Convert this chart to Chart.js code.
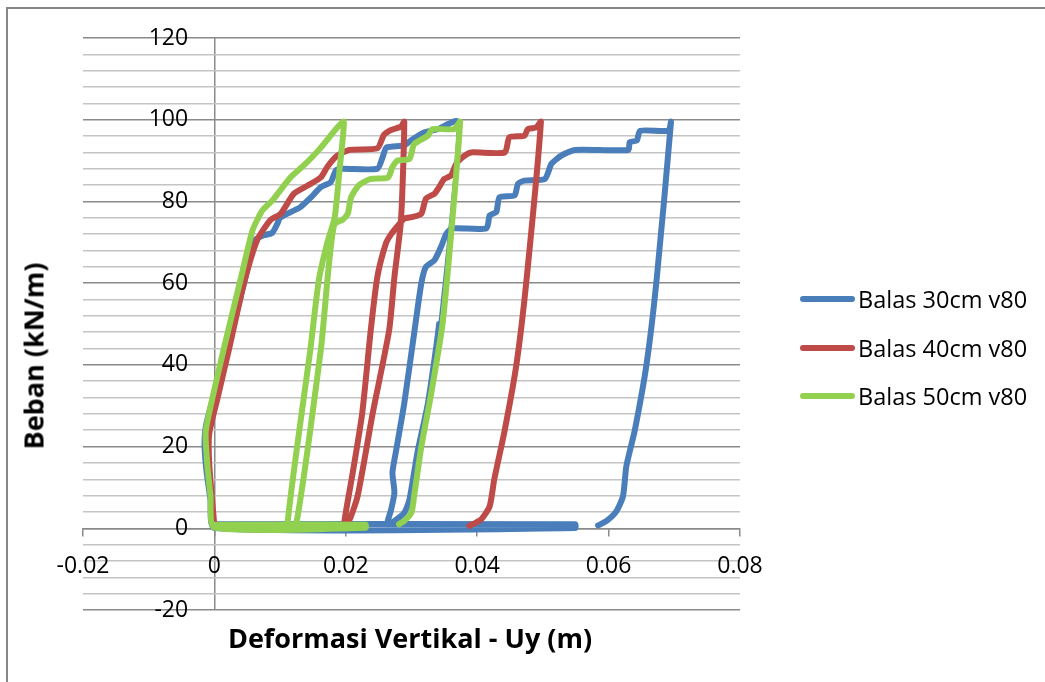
<!DOCTYPE html>
<html>
<head>
<meta charset="utf-8">
<script src="https://cdn.jsdelivr.net/npm/chart.js@4.4.1/dist/chart.umd.min.js"></script>
<style>
  html, body { margin: 0; padding: 0; background: #fff; overflow: hidden; }
  #wrap { position: relative; width: 1045px; height: 682px; overflow: hidden; }
  #frame { position: absolute; left: 6px; top: 7px; width: 1100px; height: 720px; border: 2px solid #878787; box-sizing: border-box; }
  canvas { position: absolute; left: 0; top: 0; }
  .title { position: absolute; font-family: "Open Sans", sans-serif; font-weight: bold; font-size: 27px; color: #000; white-space: nowrap; transform: translate(-50%, -50%); }
  #ytitle { left: 33px; top: 356px; transform: translate(-50%, -50%) rotate(-90deg); }
  #xtitle { left: 410px; top: 637px; }
  #legend { position: absolute; left: 800px; top: 275px; font-family: "Open Sans", sans-serif; font-size: 23.5px; color: #000; }
  .item { height: 48.5px; display: flex; align-items: center; }
  .swatch { width: 55px; height: 6px; border-radius: 3px; }
  .item span.txt { margin-left: 3px; }
</style>
</head>
<body>
<div id="wrap">
  <div id="frame"></div>
  <canvas id="chart" width="1045" height="682"></canvas>
  <div class="title" id="ytitle">Beban (kN/m)</div>
  <div class="title" id="xtitle">Deformasi Vertikal - Uy (m)</div>
  <div id="legend"></div>
</div>
<script>
// series names
const seriesNames = ['Balas 30cm v80', 'Balas 40cm v80', 'Balas 50cm v80'];

// Balas 30cm: displacement (m) and load (kN/m), in drawing order
const uy30 = [0, 0.0549, 0.0549, 0, -0.0006, -0.0012, -0.0015, -0.0013, 0.0, 0.002, 0.0045, 0.0062,
  0.0075, 0.0088, 0.0096, 0.0100, 0.0116, 0.0131, 0.0147, 0.0162, 0.0177, 0.0185, 0.0194, 0.0248,
  0.0256, 0.0262, 0.0289, 0.0299, 0.0320, 0.0340, 0.0370,
  0.0342, 0.0325, 0.0309, 0.0297, 0.0289, 0.0274, 0.0263,
  0.0269, 0.0274, 0.0271, 0.0276, 0.0289, 0.0306, 0.0315, 0.0322, 0.0335, 0.0345, 0.0353, 0.0362,
  0.0414, 0.0419, 0.0429, 0.0434, 0.0457, 0.0462, 0.0472, 0.0503, 0.0513, 0.0528, 0.0549, 0.0630,
  0.0632, 0.0643, 0.0648, 0.0691, 0.0695,
  0.0673, 0.0658, 0.0640, 0.0627, 0.0622, 0.0612, 0.0597, 0.0584];
const load30 = [1.0, 1.0, 0.05, 0.05, 7, 14, 20, 25, 33, 44, 60, 70.5,
  71.7, 72.3, 74.6, 76, 77.4, 78.6, 81, 83.5, 84.7, 87.6, 88, 88,
  90.8, 93.2, 93.7, 94.9, 96.9, 97.7, 99.5,
  50, 30.6, 18.5, 7.1, 3.8, 1.8, 1.0,
  4.6, 8.7, 13.6, 18.5, 30.6, 50, 60, 64, 65.6, 68.9, 72.1, 73.4,
  73.4, 76.6, 77.4, 81, 81.5, 84.3, 85.1, 85.5, 89.2, 91.2, 92.6, 92.6,
  94.5, 94.9, 97.3, 97.3, 99.5,
  60.7, 40.4, 24.1, 15.2, 7.9, 4.2, 1.8, 0.7];

// Balas 40cm
const uy40 = [0, -0.0004, -0.0008, -0.0008, 0.0005, 0.0022, 0.0045, 0.0065, 0.0085, 0.0101, 0.0121,
  0.0142, 0.0162, 0.0172, 0.0187, 0.0205, 0.0248, 0.0258, 0.0269, 0.0284, 0.0289,
  0.0284, 0.0274, 0.0266, 0.0241, 0.0218, 0.0205, 0.0197,
  0.0211, 0.0225, 0.0238, 0.0248, 0.0261, 0.0269, 0.0279, 0.0289, 0.0302, 0.0315, 0.0322, 0.0335,
  0.0342, 0.0350, 0.0360, 0.0368, 0.0381, 0.0391, 0.0442, 0.0449, 0.0472, 0.0477, 0.0490, 0.0497,
  0.0475, 0.0460, 0.0442, 0.0426, 0.0419, 0.0406, 0.0388];
const load40 = [0.5, 8, 16, 23, 32, 43.7, 60, 70.5, 75.4, 77, 81.9,
  83.9, 85.9, 88.5, 91.2, 92.6, 93.0, 96.3, 97.5, 98.3, 99.5,
  75.4, 61.5, 48.5, 28.2, 7.9, 1.8, 0.5,
  14, 28.2, 48.5, 61.5, 69.7, 72, 74, 75.8, 76.2, 77, 80.7, 81.9,
  83.5, 85.5, 86.3, 89.2, 91.2, 92, 92, 95.7, 96.1, 97.7, 98.1, 99.5,
  60.7, 40.4, 24.1, 12, 5.4, 2.2, 0.6];

// Balas 50cm
const uy50 = [0, 0.0230, 0.0230, 0, -0.0006, -0.0011, -0.0013, 0.0014, 0.0040, 0.0058, 0.0073, 0.0088,
  0.0116, 0.0136, 0.0160, 0.0187, 0.0197,
  0.0190, 0.0183, 0.0172, 0.0159, 0.0146, 0.0111,
  0.0124, 0.0162, 0.0172, 0.0178, 0.0183, 0.0195, 0.0203, 0.0208, 0.0220, 0.0238, 0.0264, 0.0271,
  0.0279, 0.0297, 0.0304, 0.0325, 0.0332, 0.0365, 0.0374,
  0.0348, 0.0330, 0.0315, 0.0304, 0.0300, 0.0289, 0.0281];
const load50 = [0.85, 0.85, 0.15, 0.15, 8, 16, 24, 43.7, 61, 72.9, 77.8, 80.2,
  85.9, 88.8, 92.8, 98.1, 99.5,
  87, 76, 70, 60.8, 43.7, 0.5,
  0.5, 43.7, 60.8, 70, 74.5, 75.5, 77, 81, 84, 85.5, 85.8, 88.4,
  90, 90.4, 94, 96.1, 97.7, 97.7, 99.5,
  51, 33, 20, 7.9, 3.9, 1.8, 1.0];

const colors = ['#4A7EBB', '#BE4B48', '#92D050'];

// axis ticks
const xTickValues = [-0.02, 0, 0.02, 0.04, 0.06, 0.08];
const xTickLabels = ['-0.02', '0', '0.02', '0.04', '0.06', '0.08'];
const yTickLabels = [-20, 0, 20, 40, 60, 80, 100, 120];

const toPoints = (xs, ys) => xs.map((x, i) => ({ x: x, y: ys[i] }));

// the unloading from the first blue peak is drawn thin in the original
const thinSegStart = load30.indexOf(99.5);

const datasets = [
  { label: seriesNames[0], data: toPoints(uy30, load30), borderColor: colors[0], order: 3,
    segment: { borderWidth: c => (c.p0DataIndex === thinSegStart ? 1.6 : undefined) } },
  { label: seriesNames[1], data: toPoints(uy40, load40), borderColor: colors[1], order: 2 },
  { label: seriesNames[2], data: toPoints(uy50, load50), borderColor: colors[2], order: 1 },
].map(d => Object.assign({
  showLine: true,
  backgroundColor: d.borderColor,
  borderWidth: 6,
  borderCapStyle: 'round',
  borderJoinStyle: 'round',
  pointRadius: 0,
  pointHoverRadius: 0,
  tension: 0.2,
  fill: false,
}, d));

const tickFont = { family: '"Open Sans", sans-serif', size: 23 };
const gridGrey = '#8a8a8a';

const ctx = document.getElementById('chart').getContext('2d');
const myChart = new Chart(ctx, {
  type: 'scatter',
  data: { datasets: datasets },
  options: {
    responsive: false,
    animation: false,
    devicePixelRatio: 1,
    layout: { padding: { left: 83, top: 38, right: 305, bottom: 72 } },
    plugins: { legend: { display: false }, tooltip: { enabled: false } },
    scales: {
      x: {
        type: 'linear',
        position: { y: 0 },
        min: -0.02,
        max: 0.08,
        ticks: {
          stepSize: 0.02,
          autoSkip: false,
          maxRotation: 0,
          padding: 17,
          color: '#000',
          font: tickFont,
          callback: value => {
            const i = xTickValues.findIndex(v => Math.abs(v - value) < 1e-9);
            return i >= 0 ? xTickLabels[i] : '';
          },
        },
        // only the vertical line at x = 0 is drawn inside the plot
        grid: {
          drawOnChartArea: true,
          drawTicks: true,
          tickLength: 7,
          tickColor: gridGrey,
          lineWidth: 1.5,
          color: c => (c.tick && Math.abs(c.tick.value) < 1e-9 ? gridGrey : 'rgba(0,0,0,0)'),
        },
        border: { display: true, color: gridGrey, width: 1.5 },
      },
      y: {
        type: 'linear',
        // labels sit a little to the left of the x = 0 line
        position: { x: -0.004 },
        min: -20,
        max: 120,
        ticks: {
          stepSize: 4,
          autoSkip: false,
          color: '#000',
          font: tickFont,
          callback: value => (yTickLabels.includes(value) ? String(value) : ''),
        },
        grid: {
          drawTicks: false,
          color: c => (c.tick && c.tick.value % 20 === 0 ? gridGrey : '#c4c4c4'),
          lineWidth: 1.5,
        },
        border: { display: false },
      },
    },
  },
});

// legend
const legend = document.getElementById('legend');
datasets.forEach(d => {
  const row = document.createElement('div');
  row.className = 'item';
  const sw = document.createElement('span');
  sw.className = 'swatch';
  sw.style.background = d.borderColor;
  const txt = document.createElement('span');
  txt.className = 'txt';
  txt.textContent = d.label;
  row.appendChild(sw);
  row.appendChild(txt);
  legend.appendChild(row);
});
</script>
</body>
</html>
